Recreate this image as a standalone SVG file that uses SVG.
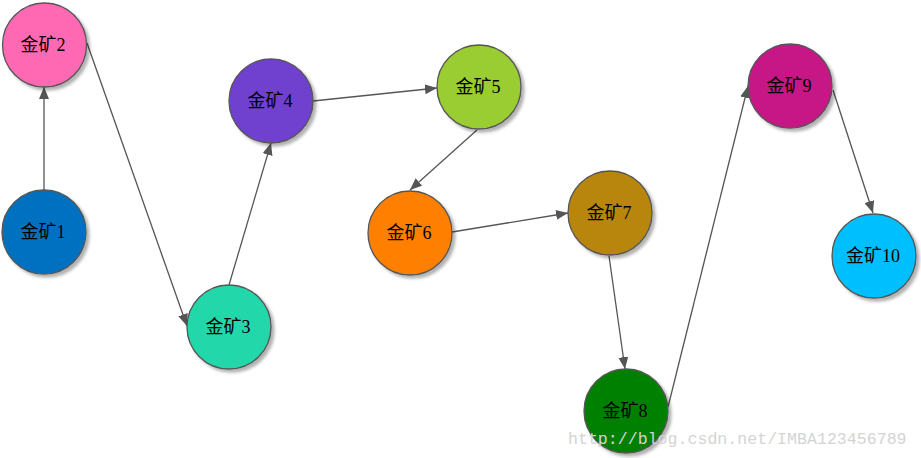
<svg xmlns="http://www.w3.org/2000/svg" width="921" height="458" viewBox="0 0 921 458">
<style>
.n circle{stroke:#555;stroke-width:1.3}
.n text{font-family:"Liberation Serif","Noto Sans CJK SC",serif;font-size:18px;text-anchor:middle;fill:#000}
.e line{stroke:#555;stroke-width:1.3;marker-end:url(#ah)}
.wm{font-family:"Liberation Mono",monospace;font-size:16.6px;fill:#d4d4d4}
</style>
<defs>
<marker id="ah" viewBox="0 0 12 10" refX="12" refY="5" markerWidth="12" markerHeight="10" markerUnits="userSpaceOnUse" orient="auto"><path d="M0,0L12,5L0,10z" fill="#555"/></marker>
<filter id="sh" x="-20%" y="-20%" width="150%" height="150%"><feDropShadow dx="3" dy="3" stdDeviation="1.5" flood-color="#000" flood-opacity="0.3"/></filter>
</defs>
<rect width="921" height="458" fill="#fff"/>
<g class="e">
<line x1="44" y1="190" x2="44" y2="87"/>
<line x1="87" y1="43" x2="187" y2="326"/>
<line x1="229" y1="285" x2="271" y2="143"/>
<line x1="313" y1="101" x2="437" y2="88"/>
<line x1="477" y1="130" x2="410" y2="190"/>
<line x1="452" y1="232" x2="568" y2="213"/>
<line x1="609" y1="256" x2="625" y2="369"/>
<line x1="668" y1="407" x2="748" y2="86"/>
<line x1="833" y1="90" x2="873" y2="213"/>
</g>
<g id="n1" class="n"><circle cx="44" cy="232" r="42" fill="#0070C0" filter="url(#sh)"/><text x="43" y="238">金矿1</text></g>
<g id="n2" class="n"><circle cx="44.5" cy="45" r="42" fill="#FF69B4" filter="url(#sh)"/><text x="43" y="51">金矿2</text></g>
<g id="n3" class="n"><circle cx="229" cy="327" r="42" fill="#24D8AB" filter="url(#sh)"/><text x="228" y="333">金矿3</text></g>
<g id="n4" class="n"><circle cx="271" cy="101" r="42" fill="#7040CF" filter="url(#sh)"/><text x="270" y="107">金矿4</text></g>
<g id="n5" class="n"><circle cx="479" cy="87" r="42" fill="#9ACD32" filter="url(#sh)"/><text x="478" y="93">金矿5</text></g>
<g id="n6" class="n"><circle cx="410" cy="233" r="42" fill="#FF8000" filter="url(#sh)"/><text x="409" y="239">金矿6</text></g>
<g id="n7" class="n"><circle cx="610" cy="213" r="42" fill="#B8860B" filter="url(#sh)"/><text x="609" y="219">金矿7</text></g>
<g id="n8" class="n"><circle cx="626" cy="411" r="42" fill="#008000" filter="url(#sh)"/><text x="625" y="417">金矿8</text></g>
<g id="n9" class="n"><circle cx="790" cy="86" r="42" fill="#C71585" filter="url(#sh)"/><text x="789" y="92">金矿9</text></g>
<g id="n10" class="n"><circle cx="874" cy="256" r="42" fill="#00BFFF" filter="url(#sh)"/><text x="873" y="262">金矿10</text></g>
<text class="wm" x="568" y="444">http://blog.csdn.net/IMBA123456789</text>
</svg>
